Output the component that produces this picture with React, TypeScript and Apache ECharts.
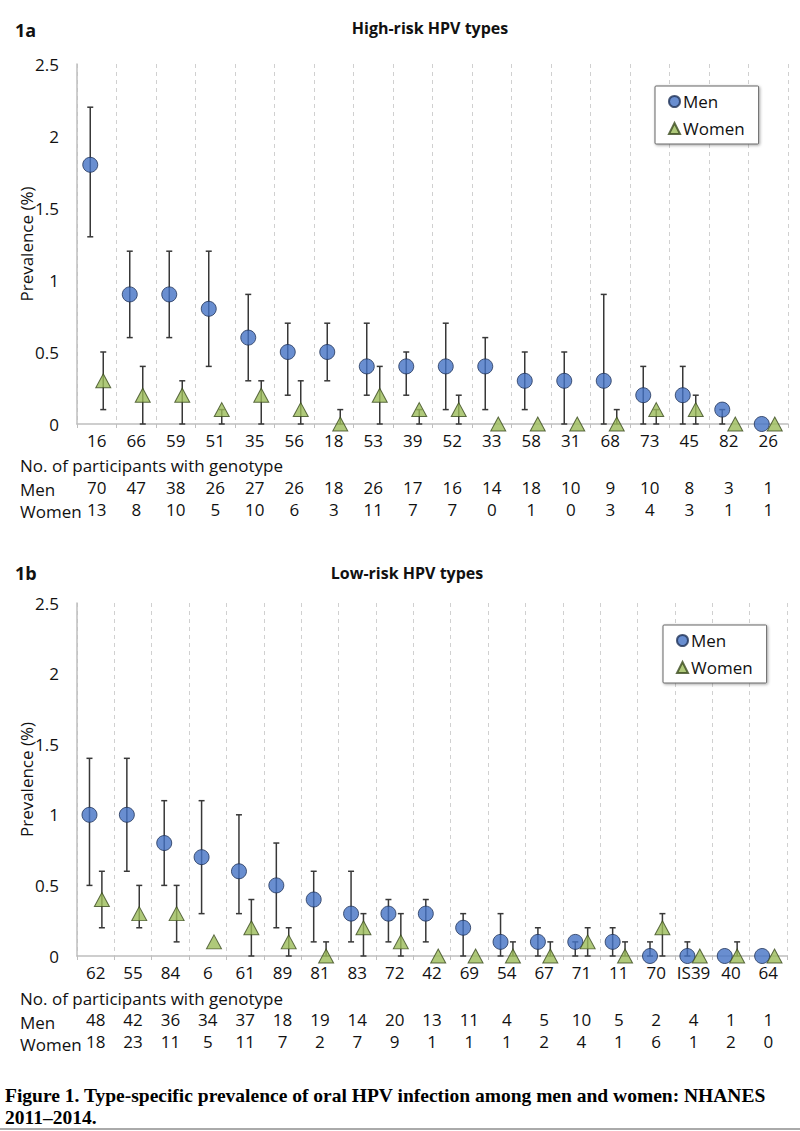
import React, { useEffect, useRef } from "react";
import * as echarts from "echarts";

// ---------- Data: high-risk HPV types (1a) ----------
const highTypes = ["16", "66", "59", "51", "35", "56", "18", "53", "39", "52", "33", "58", "31", "68", "73", "45", "82", "26"];
const highMen = [1.8, 0.9, 0.9, 0.8, 0.6, 0.5, 0.5, 0.4, 0.4, 0.4, 0.4, 0.3, 0.3, 0.3, 0.2, 0.2, 0.1, 0.0];
const highMenLow = [1.3, 0.6, 0.6, 0.4, 0.3, 0.2, 0.3, 0.2, 0.2, 0.1, 0.1, 0.1, 0.0, 0.0, 0.0, 0.0, 0.0, 0.0];
const highMenHigh = [2.2, 1.2, 1.2, 1.2, 0.9, 0.7, 0.7, 0.7, 0.5, 0.7, 0.6, 0.5, 0.5, 0.9, 0.4, 0.4, 0.1, 0.0];
const highWomen = [0.3, 0.2, 0.2, 0.1, 0.2, 0.1, 0.0, 0.2, 0.1, 0.1, 0.0, 0.0, 0.0, 0.0, 0.1, 0.1, 0.0, 0.0];
const highWomenLow = [0.1, 0.0, 0.0, 0.0, 0.0, 0.0, 0.0, 0.0, 0.0, 0.0, 0.0, 0.0, 0.0, 0.0, 0.0, 0.0, 0.0, 0.0];
const highWomenHigh = [0.5, 0.4, 0.3, 0.1, 0.3, 0.3, 0.1, 0.4, 0.1, 0.2, 0.0, 0.0, 0.0, 0.1, 0.1, 0.2, 0.0, 0.0];
const highMenCounts = [70, 47, 38, 26, 27, 26, 18, 26, 17, 16, 14, 18, 10, 9, 10, 8, 3, 1];
const highWomenCounts = [13, 8, 10, 5, 10, 6, 3, 11, 7, 7, 0, 1, 0, 3, 4, 3, 1, 1];

// ---------- Data: low-risk HPV types (1b) ----------
const lowTypes = ["62", "55", "84", "6", "61", "89", "81", "83", "72", "42", "69", "54", "67", "71", "11", "70", "IS39", "40", "64"];
const lowMen = [1.0, 1.0, 0.8, 0.7, 0.6, 0.5, 0.4, 0.3, 0.3, 0.3, 0.2, 0.1, 0.1, 0.1, 0.1, 0.0, 0.0, 0.0, 0.0];
const lowMenLow = [0.5, 0.6, 0.5, 0.3, 0.3, 0.2, 0.1, 0.1, 0.1, 0.1, 0.0, 0.0, 0.0, 0.0, 0.0, 0.0, 0.0, 0.0, 0.0];
const lowMenHigh = [1.4, 1.4, 1.1, 1.1, 1.0, 0.8, 0.6, 0.6, 0.4, 0.4, 0.3, 0.3, 0.2, 0.1, 0.2, 0.1, 0.1, 0.0, 0.0];
const lowWomen = [0.4, 0.3, 0.3, 0.1, 0.2, 0.1, 0.0, 0.2, 0.1, 0.0, 0.0, 0.0, 0.0, 0.1, 0.0, 0.2, 0.0, 0.0, 0.0];
const lowWomenLow = [0.2, 0.2, 0.1, 0.1, 0.0, 0.0, 0.0, 0.0, 0.0, 0.0, 0.0, 0.0, 0.0, 0.0, 0.0, 0.0, 0.0, 0.0, 0.0];
const lowWomenHigh = [0.6, 0.5, 0.5, 0.1, 0.4, 0.2, 0.1, 0.3, 0.3, 0.0, 0.0, 0.1, 0.1, 0.2, 0.1, 0.3, 0.0, 0.1, 0.0];
const lowMenCounts = [48, 42, 36, 34, 37, 18, 19, 14, 20, 13, 11, 4, 5, 10, 5, 2, 4, 1, 1];
const lowWomenCounts = [18, 23, 11, 5, 11, 7, 2, 7, 9, 1, 1, 1, 2, 4, 1, 6, 1, 2, 0];

const yTicks = { min: 0, max: 2.5, interval: 0.5 };

const FONT = "'Open Sans', 'Noto Sans', sans-serif";
const FS = 17;
const MEN_COLOR = "#4472C4";
const MEN_BORDER = "#1F3258";
const WOMEN_COLOR = "#9BBB59";
const WOMEN_BORDER = "#3A4A1E";

function errRender(dx: number) {
  return (params: any, api: any) => {
    const i = api.value(0);
    const lo = api.value(1);
    const hi = api.value(2);
    if (!(hi > lo)) return { type: "group", children: [] };
    const top = api.coord([i, hi]);
    const bot = api.coord([i, lo]);
    const x = top[0] + dx;
    const style = { stroke: "#383838", lineWidth: 1.5 };
    return {
      type: "group",
      children: [
        { type: "line", shape: { x1: x, y1: top[1], x2: x, y2: bot[1] }, style },
        { type: "line", shape: { x1: x - 3, y1: top[1], x2: x + 3, y2: top[1] }, style },
        { type: "line", shape: { x1: x - 3, y1: bot[1], x2: x + 3, y2: bot[1] }, style },
      ],
    };
  };
}

function errData(lo: number[], hi: number[]) {
  return lo.map((l, i) => [i, l, hi[i]]);
}

function panelAxes(gridIndex: number, types: string[], menCounts: number[], womenCounts: number[]) {
  const labelBase = { fontFamily: FONT, fontSize: FS, color: "#111", margin: 8 };
  return [
    {
      type: "category",
      gridIndex,
      data: types,
      position: "bottom",
      axisLine: { show: true, lineStyle: { color: "#BFBFBF", width: 1.5 } },
      axisTick: { show: true, length: 4, lineStyle: { color: "#BFBFBF" } },
      splitLine: { show: true, lineStyle: { color: "#D0D0D0", type: [4, 4], width: 1 } },
      axisLabel: { ...labelBase, interval: 0 },
    },
    {
      type: "category",
      gridIndex,
      data: types,
      position: "bottom",
      offset: 47,
      axisLine: { show: false },
      axisTick: { show: false },
      splitLine: { show: false },
      axisLabel: { ...labelBase, interval: 0, formatter: (_v: string, idx: number) => String(menCounts[idx]) },
    },
    {
      type: "category",
      gridIndex,
      data: types,
      position: "bottom",
      offset: 69,
      axisLine: { show: false },
      axisTick: { show: false },
      splitLine: { show: false },
      axisLabel: { ...labelBase, interval: 0, formatter: (_v: string, idx: number) => String(womenCounts[idx]) },
    },
  ];
}

function yAxis(gridIndex: number) {
  return {
    type: "value",
    gridIndex,
    ...yTicks,
    name: "Prevalence (%)",
    nameLocation: "middle",
    nameRotate: 90,
    nameGap: 42,
    nameMoveOverlap: false,
    nameTextStyle: { fontFamily: FONT, fontSize: FS, color: "#111" },
    axisLine: { show: true, lineStyle: { color: "#BFBFBF", width: 1.5 } },
    axisTick: { show: false },
    splitLine: { show: false },
    axisLabel: { fontFamily: FONT, fontSize: FS, color: "#111", margin: 18 },
  };
}

function panelSeries(xAxisIndex: number, yAxisIndex: number, men: number[], menLo: number[], menHi: number[], women: number[], womenLo: number[], womenHi: number[], dx: number) {
  return [
    {
      type: "custom",
      name: "MenErr",
      xAxisIndex,
      yAxisIndex,
      renderItem: errRender(-dx),
      data: errData(menLo, menHi),
      encode: { x: 0, y: [1, 2] },
      z: 2,
      silent: true,
    },
    {
      type: "custom",
      name: "WomenErr",
      xAxisIndex,
      yAxisIndex,
      renderItem: errRender(dx),
      data: errData(womenLo, womenHi),
      encode: { x: 0, y: [1, 2] },
      z: 2,
      silent: true,
    },
    {
      type: "scatter",
      name: "Men",
      xAxisIndex,
      yAxisIndex,
      data: men,
      symbol: "circle",
      symbolSize: 15,
      symbolOffset: [-dx, 0],
      itemStyle: { color: MEN_COLOR, borderColor: MEN_BORDER, borderWidth: 1 },
      z: 3,
    },
    {
      type: "scatter",
      name: "Women",
      xAxisIndex,
      yAxisIndex,
      data: women,
      symbol: "triangle",
      symbolSize: [15, 14],
      symbolOffset: [dx, 0],
      itemStyle: { color: WOMEN_COLOR, borderColor: WOMEN_BORDER, borderWidth: 1 },
      z: 4,
    },
  ];
}

function legend(left: number, top: number) {
  return {
    orient: "vertical",
    left,
    top,
    data: ["Men", "Women"],
    selectedMode: false,
    backgroundColor: "#fff",
    borderColor: "#666",
    borderWidth: 1,
    borderRadius: 1,
    padding: [7, 14, 7, 13],
    itemGap: 10,
    itemWidth: 11,
    itemHeight: 11,
    shadowBlur: 3,
    shadowColor: "rgba(0,0,0,0.35)",
    shadowOffsetX: 1,
    shadowOffsetY: 1,
    textStyle: { fontFamily: FONT, fontSize: 17, color: "#111", padding: [0, 0, 0, -2] },
  };
}

function text(x: number, y: number, t: string, style: any) {
  return { type: "text", x, y, style: { text: t, fill: "#111", fontFamily: FONT, verticalAlign: "middle", ...style } };
}

const SERIF = "'Liberation Serif', 'Times New Roman', serif";

export default function App() {
  const ref = useRef<HTMLDivElement>(null);
  useEffect(() => {
    if (!ref.current) return;
    const chart = echarts.init(ref.current, null, { renderer: "svg" });
    const option: any = {
      animation: false,
      backgroundColor: "#fff",
      grid: [
        { left: 77, top: 64, width: 711, height: 360 },
        { left: 77, top: 603, width: 710, height: 353 },
      ],
      xAxis: [
        ...panelAxes(0, highTypes, highMenCounts, highWomenCounts),
        ...panelAxes(1, lowTypes, lowMenCounts, lowWomenCounts),
      ],
      yAxis: [yAxis(0), yAxis(1)],
      legend: [legend(655, 86), legend(663, 625)],
      series: [
        ...panelSeries(0, 0, highMen, highMenLow, highMenHigh, highWomen, highWomenLow, highWomenHigh, 6.5),
        ...panelSeries(3, 1, lowMen, lowMenLow, lowMenHigh, lowWomen, lowWomenLow, lowWomenHigh, 6.2),
      ],
      graphic: [
        text(15, 30, "1a", { fontSize: 18, fontWeight: "bold" }),
        text(430, 28, "High-risk HPV types", { fontSize: 16, fontWeight: "bold", align: "center" }),
        text(20, 465, "No. of participants with genotype", { fontSize: FS }),
        text(20, 489, "Men", { fontSize: FS }),
        text(20, 511, "Women", { fontSize: FS }),
        text(15, 573, "1b", { fontSize: 18, fontWeight: "bold" }),
        text(407, 573, "Low-risk HPV types", { fontSize: 16, fontWeight: "bold", align: "center" }),
        text(20, 998, "No. of participants with genotype", { fontSize: FS }),
        text(20, 1022, "Men", { fontSize: FS }),
        text(20, 1044, "Women", { fontSize: FS }),
        text(5, 1095, "Figure 1. Type-specific prevalence of oral HPV infection among men and women: NHANES", {
          fontSize: 19.5,
          fontWeight: "bold",
          fontFamily: SERIF,
          fill: "#000",
        }),
        text(5, 1117, "2011–2014.", {
          fontSize: 19.5,
          fontWeight: "bold",
          fontFamily: SERIF,
          fill: "#000",
        }),
        { type: "line", shape: { x1: 0, y1: 1129, x2: 800, y2: 1129 }, style: { stroke: "#AAAAAA", lineWidth: 2 } },
      ],
    };
    chart.setOption(option);
    return () => chart.dispose();
  }, []);
  return <div ref={ref} style={{ position: "absolute", left: 0, top: 0, width: 800, height: 1131 }} />;
}
